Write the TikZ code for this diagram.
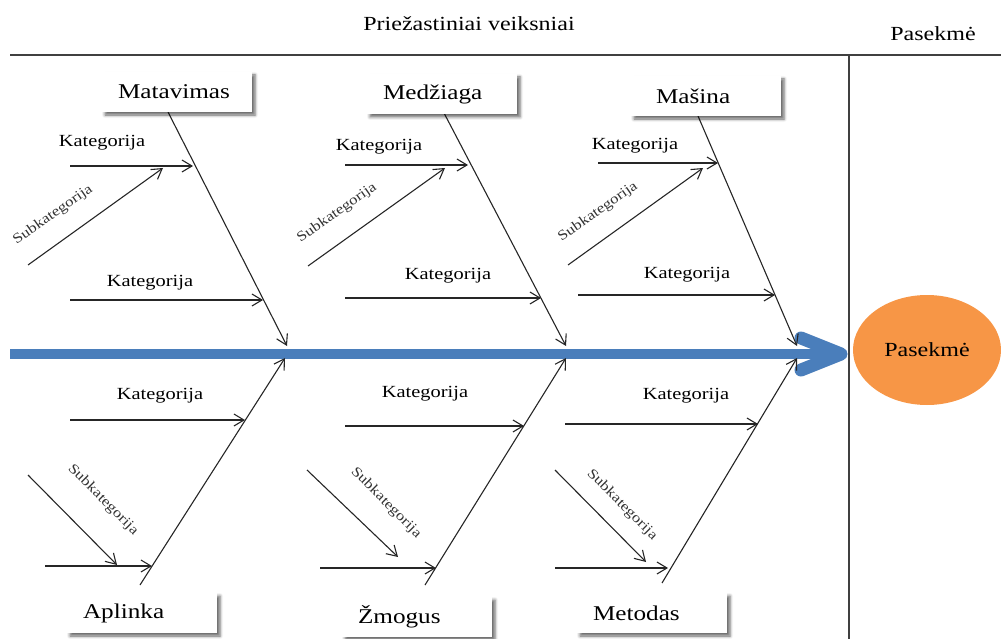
\documentclass[tikz,border=0pt]{standalone}
\usepackage{fontspec}
\setmainfont{Liberation Serif}[FakeStretch=1.2]
\usetikzlibrary{arrows.meta,shadows.blur,shapes.geometric}
\definecolor{spineblue}{HTML}{4A7EBB}
\definecolor{effectorange}{HTML}{F79646}
\definecolor{rulegray}{HTML}{404040}
\begin{document}
\begin{tikzpicture}[x=1pt,y=-1pt,
  cause/.style={draw=black!85, line width=1.1pt, -{Straight Barb[length=10pt,width=12pt]}},
  catbox/.style={fill=white, blur shadow={shadow xshift=3pt, shadow yshift=-3pt, shadow blur radius=3pt, shadow opacity=60},
    minimum height=40pt, text width=118pt, inner xsep=16pt, align=left, font=\fontsize{21}{21}\selectfont},
  catlabel/.style={font=\fontsize{17}{17}\selectfont, inner sep=1pt},
  sublabel/.style={font=\fontsize{14}{14}\selectfont, text=black!80, inner sep=1pt},
  heading/.style={font=\fontsize{20}{20}\selectfont, inner sep=1pt}]
\useasboundingbox (0,0) rectangle (1001,639);

% header and separator
\node[heading] (title) at (469,24) {Priežastiniai veiksniai};
\node[heading] (efftitle) at (933,34) {Pasekmė};
\coordinate (hl) at (10,55); \coordinate (hr) at (1001,55);
\coordinate (vt) at (849,55); \coordinate (vb) at (849,639);
\draw[rulegray, line width=1.8pt] (hl) -- (hr);
\draw[rulegray, line width=1.4pt] (vt) -- (vb);

% spine
\coordinate (tail) at (10,354);
\coordinate (head) at (841,354);
\draw[spineblue, line width=10pt] (tail) -- ([xshift=-6pt]head.center);
\draw[spineblue, line width=13pt, line cap=round, line join=round]
  ([shift={(-40,-16)}]head) -- (head) -- ([shift={(-40,16)}]head);

% effect
\node[ellipse, fill=effectorange, minimum width=148pt, minimum height=110pt,
  font=\fontsize{20}{20}\selectfont] (effect) at (927,350) {Pasekmė};

% bones (upper)
\coordinate (b1s) at (168,112); \coordinate (b1e) at (287,346);
\coordinate (b2s) at (444,113); \coordinate (b2e) at (566,346);
\coordinate (b3s) at (698,116); \coordinate (b3e) at (797,346);
% bones (lower)
\coordinate (b4s) at (140,585); \coordinate (b4e) at (285,358);
\coordinate (b5s) at (425,585); \coordinate (b5e) at (566,358);
\coordinate (b6s) at (662,583); \coordinate (b6e) at (797,358);
\foreach \i in {1,...,6} \draw[cause] (b\i s) -- (b\i e);

% category boxes
\node[catbox] (mat) at (177,92) {Matavimas};
\node[catbox] (med) at (442,94) {Medžiaga};
\node[catbox] (mas) at (706,96) {\hspace*{9pt}Mašina};
\node[catbox] (apl) at (142,613) {Aplinka};
\node[catbox] (zmo) at (417,617) {Žmogus};
\node[catbox] (met) at (652,613) {Metodas};

% Matavimas branch
\coordinate (m1s) at (70,166);  \coordinate (m1e) at (193,166);
\coordinate (m2s) at (28,265);  \coordinate (m2e) at (163,168);
\coordinate (m3s) at (70,300);  \coordinate (m3e) at (263,300);
\draw[cause] (m1s) -- (m1e);
\draw[cause] (m2s) -- (m2e);
\draw[cause] (m3s) -- (m3e);
\node[catlabel] (mk1) at (102,143) {Kategorija};
\node[catlabel] (mk2) at (150,283) {Kategorija};
\node[sublabel, rotate=35] (ms1) at (53,215) {Subkategorija};

% Medziaga branch
\coordinate (d1s) at (345,165); \coordinate (d1e) at (468,165);
\coordinate (d2s) at (308,266); \coordinate (d2e) at (445,168);
\coordinate (d3s) at (345,298); \coordinate (d3e) at (541,298);
\draw[cause] (d1s) -- (d1e);
\draw[cause] (d2s) -- (d2e);
\draw[cause] (d3s) -- (d3e);
\node[catlabel] (dk1) at (379,147) {Kategorija};
\node[catlabel] (dk2) at (448,276) {Kategorija};
\node[sublabel, rotate=35] (ds1) at (337,213) {Subkategorija};

% Masina branch
\coordinate (s1s) at (598,163); \coordinate (s1e) at (718,163);
\coordinate (s2s) at (568,265); \coordinate (s2e) at (703,168);
\coordinate (s3s) at (578,295); \coordinate (s3e) at (775,295);
\draw[cause] (s1s) -- (s1e);
\draw[cause] (s2s) -- (s2e);
\draw[cause] (s3s) -- (s3e);
\node[catlabel] (sk1) at (635,146) {Kategorija};
\node[catlabel] (sk2) at (687,275) {Kategorija};
\node[sublabel, rotate=35] (ss1) at (598,212) {Subkategorija};

% Aplinka branch
\coordinate (a1s) at (70,420);  \coordinate (a1e) at (245,420);
\coordinate (a2s) at (45,566);  \coordinate (a2e) at (152,566);
\coordinate (a3s) at (28,475);  \coordinate (a3e) at (117,565);
\draw[cause] (a1s) -- (a1e);
\draw[cause] (a2s) -- (a2e);
\draw[cause] (a3s) -- (a3e);
\node[catlabel] (ak1) at (160,396) {Kategorija};
\node[sublabel, rotate=-45] (as1) at (103,500) {Subkategorija};

% Zmogus branch
\coordinate (z1s) at (345,426); \coordinate (z1e) at (524,426);
\coordinate (z2s) at (320,568); \coordinate (z2e) at (436,568);
\coordinate (z3s) at (307,470); \coordinate (z3e) at (398,557);
\draw[cause] (z1s) -- (z1e);
\draw[cause] (z2s) -- (z2e);
\draw[cause] (z3s) -- (z3e);
\node[catlabel] (zk1) at (425,394) {Kategorija};
\node[sublabel, rotate=-45] (zs1) at (386,503) {Subkategorija};

% Metodas branch
\coordinate (t1s) at (565,424); \coordinate (t1e) at (758,424);
\coordinate (t2s) at (555,568); \coordinate (t2e) at (668,568);
\coordinate (t3s) at (555,470); \coordinate (t3e) at (646,562);
\draw[cause] (t1s) -- (t1e);
\draw[cause] (t2s) -- (t2e);
\draw[cause] (t3s) -- (t3e);
\node[catlabel] (tk1) at (686,396) {Kategorija};
\node[sublabel, rotate=-45] (ts1) at (622,505) {Subkategorija};
\end{tikzpicture}
\end{document}
